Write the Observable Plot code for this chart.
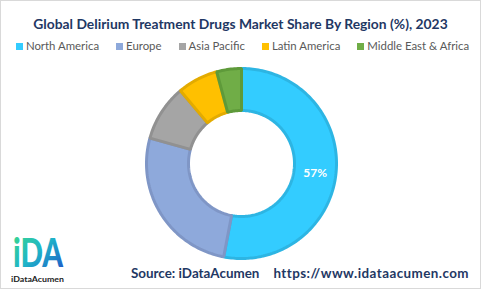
<!DOCTYPE html>
<html>
<head>
<meta charset="utf-8">
<script src="https://cdn.jsdelivr.net/npm/d3@7"></script>
<script src="https://cdn.jsdelivr.net/npm/@observablehq/plot@0.6"></script>
<style>
  html, body { margin: 0; padding: 0; background: #fff; }
  #frame { position: relative; width: 479px; height: 287px; border: 1px solid #d9d9d9; overflow: hidden; font-family: Lato, "Open Sans", sans-serif; }
  #title { position: absolute; left: 0; width: 479px; top: 14px; text-align: center; font-weight: 700; font-size: 13.85px; color: #1F3864; white-space: nowrap; }
  #legend { position: absolute; left: 0; width: 483px; top: 38px; display: flex; justify-content: center; gap: 17px; font-size: 11.4px; color: #595959; white-space: nowrap; }
  #legend span.sw { display: inline-block; width: 7px; height: 7px; margin-right: 3px; vertical-align: 0px; }
  #chart { position: absolute; left: 139px; top: 61px; }
  #source { position: absolute; top: 264px; left: 130px; font-weight: 700; font-size: 13.4px; color: #1F3864; white-space: nowrap; }
  #source span + span { margin-left: 14px; letter-spacing: 0.45px; }
  #logo { position: absolute; left: 0; top: 212px; }
</style>
</head>
<body>
<div id="frame">
  <div id="title"></div>
  <div id="legend"></div>
  <div id="chart"></div>
  <div id="logo">
    <svg width="75" height="75" viewBox="0 0 75 75">
      <defs>
        <linearGradient id="lg" x1="0" y1="0" x2="1" y2="1">
          <stop offset="0" stop-color="#3ddc84"/>
          <stop offset="0.5" stop-color="#1fb5c8"/>
          <stop offset="1" stop-color="#1f4fc8"/>
        </linearGradient>
      </defs>
      <text transform="translate(12,54) scale(0.74,1)" font-family="Lato, sans-serif" font-weight="900" font-size="40" fill="url(#lg)">iDA</text>
      <text x="10" y="69" font-family="Lato, sans-serif" font-weight="700" font-size="6.5" fill="#222" textLength="53" lengthAdjust="spacingAndGlyphs">iDataAcumen</text>
    </svg>
  </div>
  <div id="source"><span>Source: iDataAcumen</span><span>https://www.idataacumen.com</span></div>
</div>
<script>
const titleText = "Global Delirium Treatment Drugs Market Share By Region (%), 2023";
const regions = ["North America", "Europe", "Asia Pacific", "Latin America", "Middle East & Africa"];
const shares = [53, 26.3, 9.6, 6.9, 4.2];
const labels = ["57%", "", "", "", ""];
const fills = ["#33CCFF", "#8EA9DB", "#A5A5A5", "#FFC000", "#70AD47"];
const strokes = ["#2DB5E3", "#7F96C6", "#919191", "#E3AB00", "#5E9A3A"];

document.getElementById("title").textContent = titleText;
const leg = document.getElementById("legend");
regions.forEach((r, i) => {
  const d = document.createElement("div");
  d.innerHTML = `<span class="sw" style="background:${fills[i]}"></span>`;
  d.appendChild(document.createTextNode(r));
  leg.appendChild(d);
});

const R = 95, r0 = 53;
const pie = d3.pie().sort(null).value(d => d)(shares);
const ring = [];
const labelPts = [];
pie.forEach((p, i) => {
  const a0 = p.startAngle, a1 = p.endAngle;
  const n = Math.max(4, Math.ceil((a1 - a0) / 0.02));
  for (let k = 0; k <= n; k++) {
    const a = a0 + (a1 - a0) * k / n;
    ring.push({region: regions[i], x: R * Math.sin(a), y: R * Math.cos(a)});
  }
  for (let k = n; k >= 0; k--) {
    const a = a0 + (a1 - a0) * k / n;
    ring.push({region: regions[i], x: r0 * Math.sin(a), y: r0 * Math.cos(a)});
  }
  const m = (a0 + a1) / 2, rm = (R + r0) / 2;
  labelPts.push({region: regions[i], label: labels[i], x: rm * Math.sin(m), y: rm * Math.cos(m)});
});

const chart = Plot.plot({
  width: 202, height: 202, margin: 0,
  x: {domain: [-101, 101], axis: null},
  y: {domain: [-101, 101], axis: null},
  color: {domain: regions, range: fills},
  marks: [
    Plot.line(ring, {x: "x", y: "y", z: "region", fill: "region", stroke: (d) => strokes[regions.indexOf(d.region)], strokeWidth: 3, curve: "linear-closed", strokeLinejoin: "miter"}),
    Plot.text(labelPts, {x: "x", y: "y", text: "label", fill: "white", fontWeight: "bold", fontSize: 12, dy: 3, fontFamily: "Lato, sans-serif"})
  ]
});
document.getElementById("chart").appendChild(chart);
</script>
</body>
</html>
